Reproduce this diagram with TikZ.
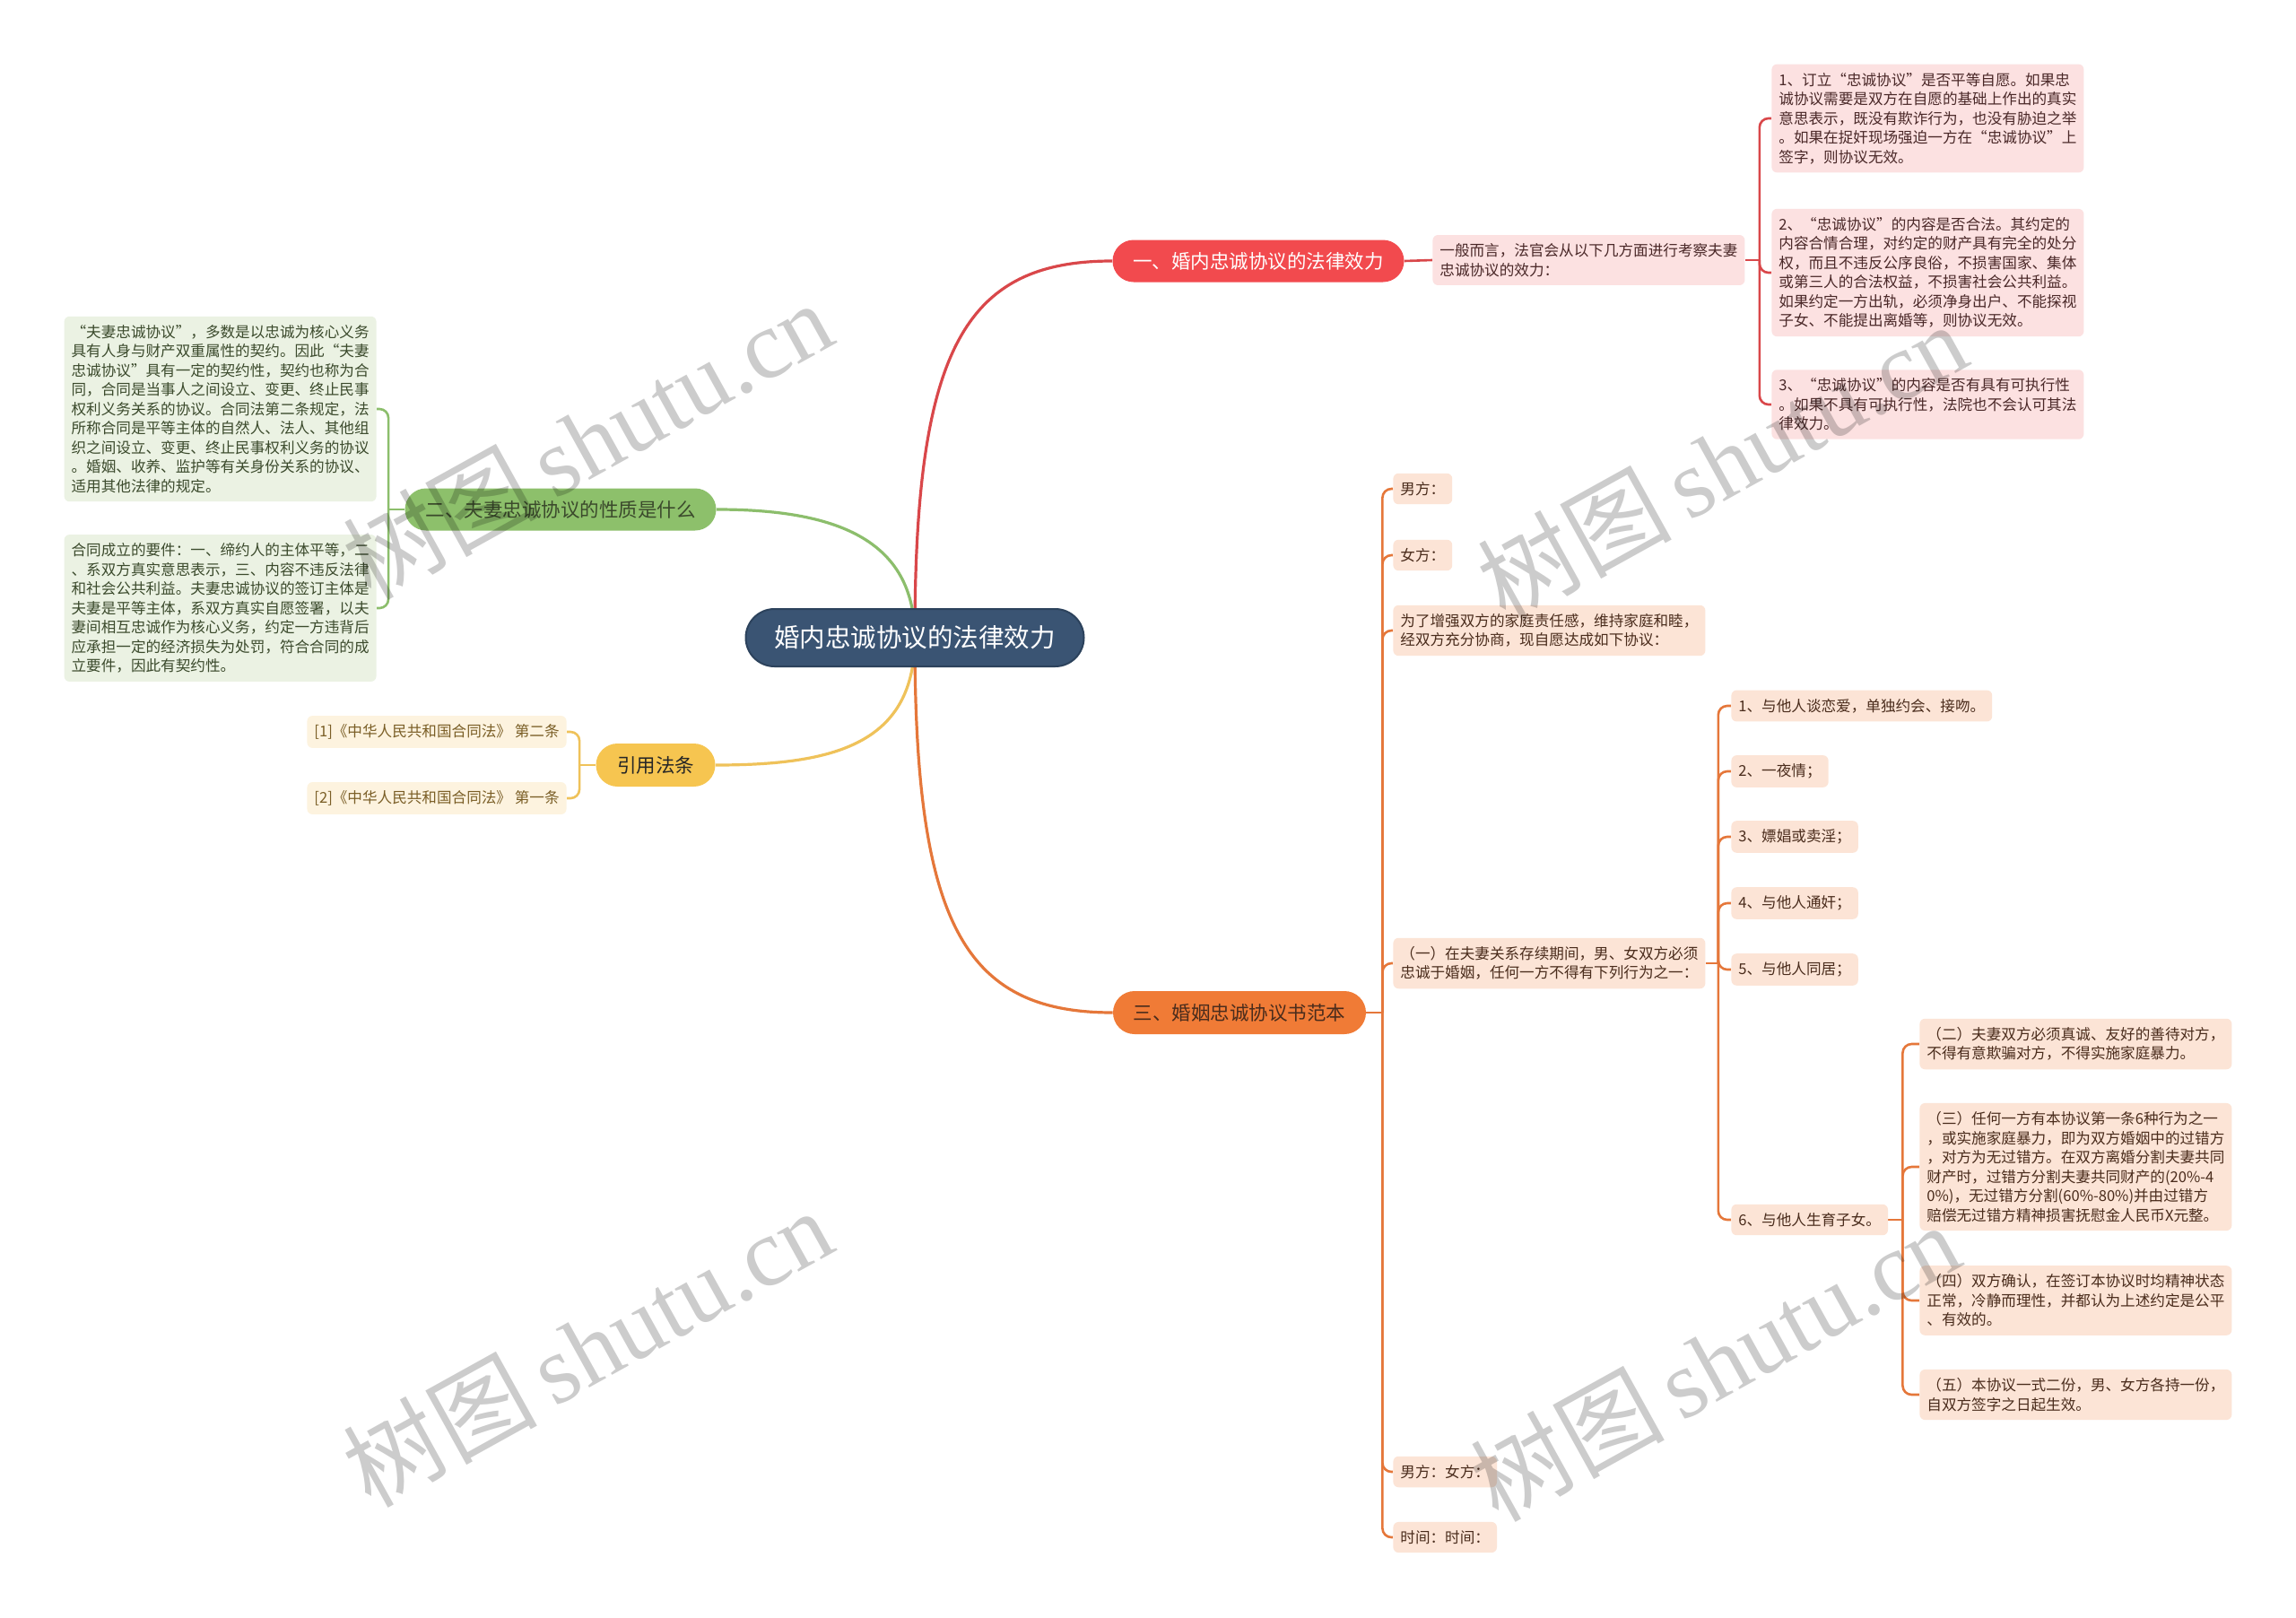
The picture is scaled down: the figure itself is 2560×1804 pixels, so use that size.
\documentclass[tikz,border=0pt]{standalone}
\usepackage{fontspec}
\setmainfont{Noto Sans CJK SC}
\newfontfamily\wmserif{Liberation Serif}
\usetikzlibrary{calc}
\definecolor{cbg}{HTML}{3A5473}
\definecolor{cbd}{HTML}{2C425C}
\definecolor{redn}{HTML}{F24A4E}
\definecolor{redl}{HTML}{D9474A}
\definecolor{pinkbg}{HTML}{FCE1E1}
\definecolor{pinktx}{HTML}{4A2828}
\definecolor{greenn}{HTML}{8DC06B}
\definecolor{greenl}{HTML}{8CBE6C}
\definecolor{greenbg}{HTML}{EBF2E3}
\definecolor{greentx}{HTML}{3B4A2C}
\definecolor{yeln}{HTML}{F6C550}
\definecolor{yell}{HTML}{EFC25A}
\definecolor{yelbg}{HTML}{FDF3DF}
\definecolor{yeltx}{HTML}{7A5E26}
\definecolor{orn}{HTML}{F07B36}
\definecolor{orl}{HTML}{E5773A}
\definecolor{orbg}{HTML}{FCE4D6}
\definecolor{ortx}{HTML}{4A2C1C}
\pgfdeclarelayer{bg}
\pgfdeclarelayer{paper}
\pgfsetlayers{paper,bg,main}
\tikzset{
  box/.style={rounded corners=3pt, inner xsep=4pt, inner ysep=4.75pt, align=left,
    font=\fontsize{8.3}{10.75}\selectfont},
  wide/.style={text width=166pt},
  pinkbox/.style={box, fill=pinkbg, text=pinktx},
  greenbox/.style={box, fill=greenbg, text=greentx},
  yelbox/.style={box, fill=yelbg, text=yeltx},
  orbox/.style={box, fill=orbg, text=ortx},
  topic/.style={rounded corners=11.75pt, inner sep=0pt, minimum height=23.5pt,
    font=\fontsize{10.75}{12}\selectfont},
  mainline/.style={line width=1.6pt},
  brline/.style={line width=1.3pt, rounded corners=5pt},
  wm/.style={text=black, opacity=0.2, rotate=29, inner sep=0pt}
}
\begin{document}
\begin{tikzpicture}[x=0.5pt, y=-0.5pt]
\useasboundingbox (0,0) rectangle (2560,1804);
\begin{pgfonlayer}{paper}
\fill[white] (0,0) rectangle (2560,1804);
\end{pgfonlayer}

% central topic
\node[rounded corners=16pt, fill=cbg, draw=cbd, line width=1pt, minimum width=188.5pt,
  minimum height=32pt, text=white, font=\fontsize{14.25}{16}\selectfont] (c) at (1020,711) {婚内忠诚协议的法律效力};

% branch 1 (red)
\node[topic, fill=redn, text=white, minimum width=162.5pt] (r) at (1403,291) {一、婚内忠诚协议的法律效力};
\node[pinkbox, wide, anchor=west] (r0) at (1597,290) {一般而言，法官会从以下几方面进行考察夫妻\\忠诚协议的效力：};
\node[pinkbox, wide, anchor=west] (r1) at (1975,132) {1、订立“忠诚协议”是否平等自愿。如果忠\\诚协议需要是双方在自愿的基础上作出的真实\\意思表示，既没有欺诈行为，也没有胁迫之举\\。如果在捉奸现场强迫一方在“忠诚协议”上\\签字，则协议无效。};
\node[pinkbox, wide, anchor=west] (r2) at (1975,304) {2、“忠诚协议”的内容是否合法。其约定的\\内容合情合理，对约定的财产具有完全的处分\\权，而且不违反公序良俗，不损害国家、集体\\或第三人的合法权益，不损害社会公共利益。\\如果约定一方出轨，必须净身出户、不能探视\\子女、不能提出离婚等，则协议无效。};
\node[pinkbox, wide, anchor=west] (r3) at (1975,451) {3、“忠诚协议”的内容是否有具有可执行性\\。如果不具有可执行性，法院也不会认可其法\\律效力。};

% branch 2 (green)
\node[topic, fill=greenn, text=greentx, minimum width=173.5pt] (g) at (625,568) {二、夫妻忠诚协议的性质是什么};
\node[greenbox, wide, anchor=east] (g1) at (420,456) {“夫妻忠诚协议”，多数是以忠诚为核心义务\\具有人身与财产双重属性的契约。因此“夫妻\\忠诚协议”具有一定的契约性，契约也称为合\\同，合同是当事人之间设立、变更、终止民事\\权利义务关系的协议。合同法第二条规定，法\\所称合同是平等主体的自然人、法人、其他组\\织之间设立、变更、终止民事权利义务的协议\\。婚姻、收养、监护等有关身份关系的协议、\\适用其他法律的规定。};
\node[greenbox, wide, anchor=east] (g2) at (420,678) {合同成立的要件：一、缔约人的主体平等，二\\、系双方真实意思表示，三、内容不违反法律\\和社会公共利益。夫妻忠诚协议的签订主体是\\夫妻是平等主体，系双方真实自愿签署，以夫\\妻间相互忠诚作为核心义务，约定一方违背后\\应承担一定的经济损失为处罚，符合合同的成\\立要件，因此有契约性。};

% branch 3 (yellow)
\node[topic, fill=yeln, text=black!85, minimum width=66.5pt, minimum height=24pt, rounded corners=12pt] (y) at (731,853) {引用法条};
\node[yelbox, anchor=east] (y1) at (632,816) {[1]《中华人民共和国合同法》 第二条};
\node[yelbox, anchor=east] (y2) at (632,890) {[2]《中华人民共和国合同法》 第一条};

% branch 4 (orange)
\node[topic, fill=orn, text=ortx, minimum width=141pt, minimum height=24pt, rounded corners=12pt] (o) at (1382,1129) {三、婚姻忠诚协议书范本};
\node[orbox, anchor=west] (o1) at (1553,545) {男方：};
\node[orbox, anchor=west] (o2) at (1553,619) {女方：};
\node[orbox, wide, anchor=west] (o3) at (1553,703) {为了增强双方的家庭责任感，维持家庭和睦，\\经双方充分协商，现自愿达成如下协议：};
\node[orbox, wide, anchor=west] (o4) at (1553,1074) {（一）在夫妻关系存续期间，男、女双方必须\\忠诚于婚姻，任何一方不得有下列行为之一：};
\node[orbox, anchor=west] (o5) at (1553,1641) {男方：女方：};
\node[orbox, anchor=west] (o6) at (1553,1714) {时间：时间：};

\node[orbox, anchor=west] (a1) at (1930,787) {1、与他人谈恋爱，单独约会、接吻。};
\node[orbox, anchor=west] (a2) at (1930,860) {2、一夜情；};
\node[orbox, anchor=west] (a3) at (1930,933) {3、嫖娼或卖淫；};
\node[orbox, anchor=west] (a4) at (1930,1007) {4、与他人通奸；};
\node[orbox, anchor=west] (a5) at (1930,1081) {5、与他人同居；};
\node[orbox, anchor=west] (a6) at (1930,1360) {6、与他人生育子女。};

\node[orbox, wide, anchor=west] (b1) at (2140,1164) {（二）夫妻双方必须真诚、友好的善待对方，\\不得有意欺骗对方，不得实施家庭暴力。};
\node[orbox, wide, anchor=west] (b2) at (2140,1301) {（三）任何一方有本协议第一条6种行为之一\\，或实施家庭暴力，即为双方婚姻中的过错方\\，对方为无过错方。在双方离婚分割夫妻共同\\财产时，过错方分割夫妻共同财产的(20\%-4\\0\%)，无过错方分割(60\%-80\%)并由过错方\\赔偿无过错方精神损害抚慰金人民币X元整。};
\node[orbox, wide, anchor=west] (b3) at (2140,1450) {（四）双方确认，在签订本协议时均精神状态\\正常，冷静而理性，并都认为上述约定是公平\\、有效的。};
\node[orbox, wide, anchor=west] (b4) at (2140,1555) {（五）本协议一式二份，男、女方各持一份，\\自双方签字之日起生效。};

% connectors
\begin{pgfonlayer}{bg}
\draw[mainline, redl] (c.center) .. controls (1020,390) and (1075,291) .. (r.west);
\draw[mainline, greenl] (c.center) .. controls (1020,600) and (930,568) .. (g.east);
\draw[mainline, yell] (c.center) .. controls (1020,830) and (930,853) .. (y.east);
\draw[mainline, orl] (c.center) .. controls (1020,1030) and (1075,1129) .. (o.west);

\draw[brline, redl] (r.east) -- (r0.west);
\draw[brline, redl] (r0.east) -- ++(16,0) coordinate (rb);
\foreach \n in {r1,r2,r3} \draw[brline, redl] (rb) |- (\n.west);

\draw[brline, greenl] (g.west) -- ++(-18,0) coordinate (gb);
\foreach \n in {g1,g2} \draw[brline, greenl] (gb) |- (\n.east);

\draw[brline, yell] (y.west) -- ++(-18,0) coordinate (yb);
\foreach \n in {y1,y2} \draw[brline, yell] (yb) |- (\n.east);

\draw[brline, orl] (o.east) -- ++(18,0) coordinate (ob);
\foreach \n in {o1,o2,o3,o4,o5,o6} \draw[brline, orl] (ob) |- (\n.west);

\draw[brline, orl] (o4.east) -- ++(14,0) coordinate (ab);
\foreach \n in {a1,a2,a3,a4,a5,a6} \draw[brline, orl] (ab) |- (\n.west);

\draw[brline, orl] (a6.east) -- ++(16,0) coordinate (bb);
\foreach \n in {b1,b2,b3,b4} \draw[brline, orl] (bb) |- (\n.west);
\end{pgfonlayer}

% watermarks
\foreach \p [count=\i] in {(655,490),(1920,514),(655,1502),(1912,1518)}
  \node[wm] (wm\i) at \p {\fontsize{54}{58}\selectfont 树图\,{\wmserif shutu.cn}};
\end{tikzpicture}
\end{document}
